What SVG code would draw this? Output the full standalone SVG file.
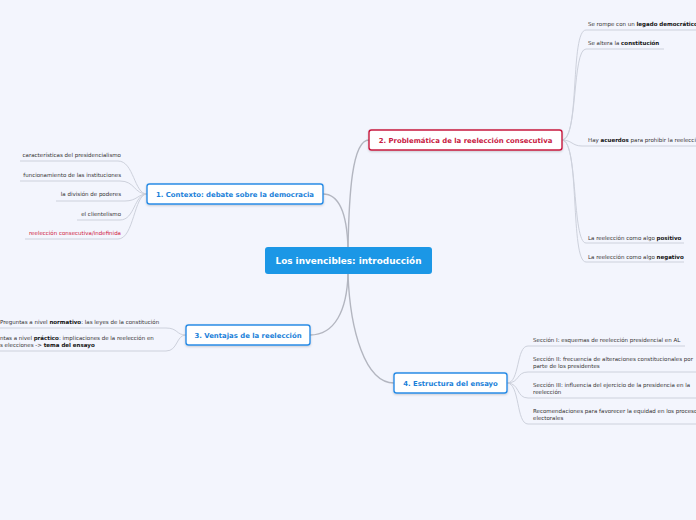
<svg xmlns="http://www.w3.org/2000/svg" width="696" height="520" viewBox="0 0 696 520">
<style>
.bg{fill:#f3f5fd}
.main{fill:none;stroke:#b3b6c0;stroke-width:1.4}
.leafc{fill:none;stroke:#cdd1dc;stroke-width:1}
.box{fill:#ffffff;stroke-width:1.4}
.blue{stroke:#2a8ce6}
.red{stroke:#c8193f}
.bt{font-family:"DejaVu Sans",Verdana,sans-serif;font-weight:bold;font-size:6.9px;text-anchor:middle}
.bt.b{fill:#1a7fd9}
.bt.r{fill:#c8193f}
.leaf{font-family:"DejaVu Sans",Verdana,sans-serif;font-size:5.5px;fill:#333333}
.leaf tspan.k{font-weight:bold;fill:#111}
.ctr{font-family:"DejaVu Sans",Verdana,sans-serif;font-weight:bold;font-size:8.9px;fill:#ffffff;text-anchor:middle}
</style>
<defs>
<filter id="sh" x="-10%" y="-30%" width="120%" height="160%">
<feDropShadow dx="0" dy="1" stdDeviation="0.8" flood-color="#000" flood-opacity="0.18"/>
</filter>
</defs>
<rect class="bg" x="0" y="0" width="696" height="520"/>

<g id="connectors">
<path class="main" d="M348 248 C347 215 340 194 323 194"/>
<path class="main" d="M348 248 C349 195 352 140 369 140"/>
<path class="main" d="M348 274 C347 310 335 335 310 335"/>
<path class="main" d="M348 274 C350 330 365 383 394 383"/>

<path class="leafc" d="M20 161 H118 C134 161 134 194 147 194"/>
<path class="leafc" d="M20 181 H120 C135 181 134 194 147 194"/>
<path class="leafc" d="M56 201 H125 C137 201 138 194 147 194"/>
<path class="leafc" d="M77 220 H120 C135 220 134 194 147 194"/>
<path class="leafc" d="M25 239 H118 C134 239 134 194 147 194"/>

<path class="leafc" d="M0 328 H166 C178 328 176 335 186 335"/>
<path class="leafc" d="M0 351 H166 C178 351 176 335 186 335"/>

<path class="leafc" d="M562 140 C580 140 570 30 586 30 H696"/>
<path class="leafc" d="M562 140 C578 140 572 49 586 49 H664"/>
<path class="leafc" d="M562 140 C572 140 572 146 582 146 H696"/>
<path class="leafc" d="M562 140 C578 140 572 243 586 243 H684"/>
<path class="leafc" d="M562 140 C580 140 570 262 586 262 H684"/>

<path class="leafc" d="M507 383 C520 383 516 346 528 346 H685"/>
<path class="leafc" d="M507 383 C520 383 516 372 528 372 H696"/>
<path class="leafc" d="M507 383 C520 383 516 398 528 398 H696"/>
<path class="leafc" d="M507 383 C520 383 516 424 528 424 H696"/>
</g>

<g id="center">
<rect x="265" y="247" width="167" height="27" rx="3" fill="#1b97e6"/>
<text class="ctr" x="348.5" y="264">Los invencibles: introducción</text>
</g>

<g id="node1">
<rect class="box blue" x="147" y="184" width="176" height="20" rx="2.5" filter="url(#sh)"/>
<text class="bt b" x="235" y="196.6">1. Contexto: debate sobre la democracia</text>
</g>
<g id="node2">
<rect class="box red" x="369" y="130" width="193" height="20" rx="2.5" filter="url(#sh)"/>
<text class="bt r" x="465.5" y="142.6">2. Problemática de la reelección consecutiva</text>
</g>
<g id="node3">
<rect class="box blue" x="186" y="325" width="124" height="20" rx="2.5" filter="url(#sh)"/>
<text class="bt b" x="248" y="337.6">3. Ventajas de la reelección</text>
</g>
<g id="node4">
<rect class="box blue" x="394" y="373" width="113" height="20" rx="2.5" filter="url(#sh)"/>
<text class="bt b" x="450.5" y="385.6">4. Estructura del ensayo</text>
</g>

<g id="leaves1" text-anchor="end">
<g id="l1a"><text class="leaf" x="121" y="157">características del presidencialismo</text></g>
<g id="l1b"><text class="leaf" x="121" y="177">funcionamiento de las instituciones</text></g>
<g id="l1c"><text class="leaf" x="121" y="196">la división de poderes</text></g>
<g id="l1d"><text class="leaf" x="121" y="216">el clientelismo</text></g>
<g id="l1e"><text class="leaf" x="121" y="235" style="fill:#d0183c">reelección consecutiva/indefinida</text></g>
</g>

<g id="leaves3">
<g id="l3a"><text class="leaf" x="0" y="324">Preguntas a nivel <tspan class="k">normativo</tspan>: las leyes de la constitución</text></g>
<g id="l3b"><text class="leaf" x="0" y="340">ntas a nivel <tspan class="k">práctico</tspan>: implicaciones de la reelección en</text>
<text class="leaf" x="0" y="347">s elecciones -&gt; <tspan class="k">tema del ensayo</tspan></text></g>
</g>

<g id="leaves2">
<g id="l2a"><text class="leaf" x="588" y="26">Se rompe con un <tspan class="k">legado democrático</tspan></text></g>
<g id="l2b"><text class="leaf" x="588" y="45">Se altera la <tspan class="k">constitución</tspan></text></g>
<g id="l2c"><text class="leaf" x="588" y="142">Hay <tspan class="k">acuerdos</tspan> para prohibir la reelección</text></g>
<g id="l2d"><text class="leaf" x="588" y="240">La reelección como algo <tspan class="k">positivo</tspan></text></g>
<g id="l2e"><text class="leaf" x="588" y="259">La reelección como algo <tspan class="k">negativo</tspan></text></g>
</g>

<g id="leaves4">
<g id="l4a"><text class="leaf" x="533" y="342">Sección I: esquemas de reelección presidencial en AL</text></g>
<g id="l4b"><text class="leaf" x="533" y="361">Sección II: frecuencia de alteraciones constitucionales por</text>
<text class="leaf" x="533" y="368">parte de los presidentes</text></g>
<g id="l4c"><text class="leaf" x="533" y="387">Sección III: influencia del ejercicio de la presidencia en la</text>
<text class="leaf" x="533" y="394">reelección</text></g>
<g id="l4d"><text class="leaf" x="533" y="413">Recomendaciones para favorecer la equidad en los procesos</text>
<text class="leaf" x="533" y="420">electorales</text></g>
</g>
</svg>
